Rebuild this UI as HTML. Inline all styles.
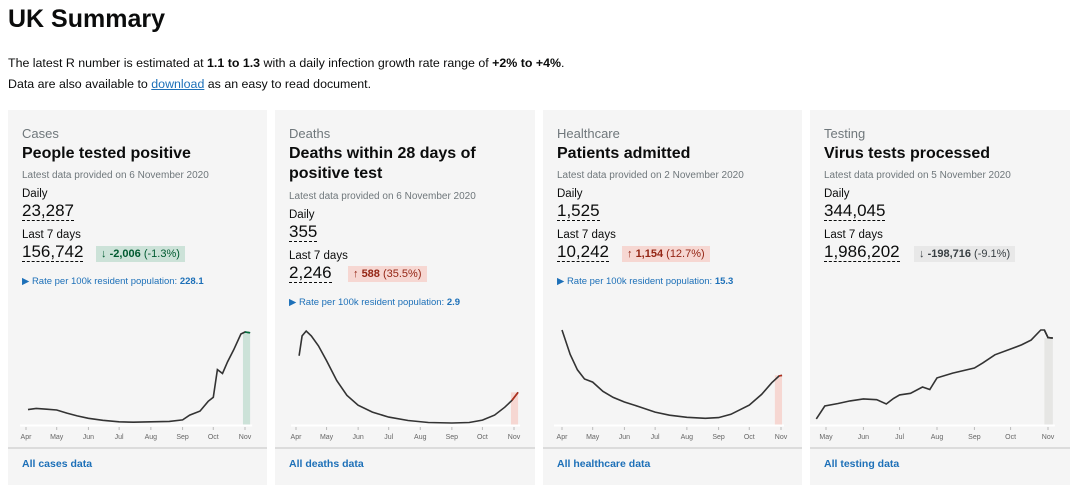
<!DOCTYPE html>
<html><head><meta charset="utf-8">
<style>
body{margin:0;width:1080px;height:495px;background:#fff;font-family:"Liberation Sans",sans-serif;color:#0b0c0c;position:relative;overflow:hidden}
.h1{position:absolute;left:8px;top:5px;font-size:25px;font-weight:bold}
.p{position:absolute;left:8px;font-size:12.4px}
.p a{color:#1d70b8}
.card{position:absolute;top:110px;height:375px;width:259px;background:#f5f5f5}
.card .cat{position:absolute;left:14px;top:16px;font-size:13px;color:#6f777b}
.card .title{position:absolute;left:14px;top:34px;font-size:16px;font-weight:bold;line-height:20px;width:230px}
.card .sub{position:absolute;left:14px;font-size:10px;color:#6f777b}
.card .lbl{position:absolute;left:14px;font-size:11.5px}
.card .num{position:absolute;left:14px;font-size:17px;border-bottom:1px dashed #0b0c0c;line-height:19px}
.chg{position:absolute;left:88px;font-size:11px;padding:2px 5px}
.rate{position:absolute;left:14px;font-size:9.5px;color:#1d70b8}
.card .div{position:absolute;left:0;right:0;top:337px;border-top:2px solid #dcdcdc}
.card .link{position:absolute;left:14px;top:348px;font-size:10.5px;font-weight:bold;color:#1d70b8}
svg{position:absolute;left:0;top:200px}
</style></head><body>
<div class="h1">UK Summary</div>
<div class="p" style="top:56px">The latest R number is estimated at <b>1.1 to 1.3</b> with a daily infection growth rate range of <b>+2% to +4%</b>.</div>
<div class="p" style="top:77px">Data are also available to <a style="text-decoration:underline">download</a> as an easy to read document.</div>

<div class="card" style="left:8px">
<div class="cat">Cases</div><div class="title">People tested positive</div>
<div class="sub" style="top:60px">Latest data provided on 6 November 2020</div>
<div class="lbl" style="top:78px">Daily</div><div class="num" style="top:91px">23,287</div>
<div class="lbl" style="top:119px">Last 7 days</div><div class="num" style="top:132px">156,742</div>
<div class="chg" style="top:136px;background:#cce2d8;color:#005a30">↓ <b>-2,006</b> (-1.3%)</div>
<div class="rate" style="top:166px">▶ Rate per 100k resident population: <b>228.1</b></div>
<svg id="c0" width="259" height="135"></svg>
<div class="div"></div><div class="link">All cases data</div></div>

<div class="card" style="left:275px;width:260px">
<div class="cat">Deaths</div><div class="title">Deaths within 28 days of positive test</div>
<div class="sub" style="top:81px">Latest data provided on 6 November 2020</div>
<div class="lbl" style="top:99px">Daily</div><div class="num" style="top:112px">355</div>
<div class="lbl" style="top:140px">Last 7 days</div><div class="num" style="top:153px">2,246</div>
<div class="chg" style="top:156px;left:73px;background:#f6d7d2;color:#942514">↑ <b>588</b> (35.5%)</div>
<div class="rate" style="top:187px">▶ Rate per 100k resident population: <b>2.9</b></div>
<svg id="c1" width="260" height="135"></svg>
<div class="div"></div><div class="link">All deaths data</div></div>

<div class="card" style="left:543px">
<div class="cat">Healthcare</div><div class="title">Patients admitted</div>
<div class="sub" style="top:60px">Latest data provided on 2 November 2020</div>
<div class="lbl" style="top:78px">Daily</div><div class="num" style="top:91px">1,525</div>
<div class="lbl" style="top:119px">Last 7 days</div><div class="num" style="top:132px">10,242</div>
<div class="chg" style="top:136px;left:79px;background:#f6d7d2;color:#942514">↑ <b>1,154</b> (12.7%)</div>
<div class="rate" style="top:166px">▶ Rate per 100k resident population: <b>15.3</b></div>
<svg id="c2" width="259" height="135"></svg>
<div class="div"></div><div class="link">All healthcare data</div></div>

<div class="card" style="left:810px;width:260px">
<div class="cat">Testing</div><div class="title">Virus tests processed</div>
<div class="sub" style="top:60px">Latest data provided on 5 November 2020</div>
<div class="lbl" style="top:78px">Daily</div><div class="num" style="top:91px">344,045</div>
<div class="lbl" style="top:119px">Last 7 days</div><div class="num" style="top:132px">1,986,202</div>
<div class="chg" style="top:136px;left:104px;background:#e8e8e8;color:#383f43">↓ <b>-198,716</b> (-9.1%)</div>
<svg id="c3" width="260" height="135"></svg>
<div class="div"></div><div class="link">All testing data</div></div>

<script>
// days since 1 April
const casesDays=[2,10,20,30,40,50,61,75,91,105,122,140,153,160,170,178,183,187,192,197,203,210,214,219];
const casesVals=[3900,4200,4000,3800,3000,2300,1700,1200,800,700,800,900,1300,2500,3500,6000,7000,14000,13000,16000,19000,23000,23500,23300];
const deathsDays=[3,6,10,15,22,30,40,50,61,75,91,110,130,153,170,183,195,205,212,218];
const deathsVals=[700,900,950,900,800,650,450,300,200,130,80,45,25,20,25,50,100,180,250,330];
const healthDays=[0,8,15,22,30,40,50,61,75,91,105,122,140,153,165,183,195,205,212,215];
const healthVals=[3100,2300,1800,1500,1400,1100,900,750,600,420,320,250,220,240,350,650,1000,1380,1600,1620];
const testDays=[22,29,40,50,61,72,80,86,91,100,110,116,122,135,153,160,170,183,192,200,208,211,214,218];
const testVals=[24000,75000,85000,95000,103000,100000,83000,105000,119000,125000,150000,140000,186000,205000,225000,245000,277000,300000,316000,335000,375000,375000,345000,343000];
const monthDays=[0,30,61,91,122,153,183,214];
const monthLabels=["Apr","May","Jun","Jul","Aug","Sep","Oct","Nov"];
const NS="http://www.w3.org/2000/svg";
function mk(t,a){const e=document.createElementNS(NS,t);for(const k in a)e.setAttribute(k,a[k]);return e;}
function chart(id,days,vals,ymax,d0,x0,x1,hlFill,hlLine,firstMonth){
 const s=document.getElementById(id);
 const xs=d=>x0+(d-d0)*(x1-x0)/(214-d0);
 const ys=v=>115-v*95/ymax;
 const ax=mk('line',{x1:xs(days[0])-8,x2:xs(days[days.length-1])+2,y1:115.5,y2:115.5,stroke:'#fff','stroke-width':2});
 const last=days[days.length-1];
 const r=mk('rect',{x:xs(last-7),y:ys(vals[vals.length-1]),width:xs(last)-xs(last-7),height:115-ys(vals[vals.length-1]),fill:hlFill});
 
 
 s.appendChild(r);
 let p='';
 days.forEach((d,i)=>{p+=(i?'L':'M')+xs(d).toFixed(1)+' '+ys(vals[i]).toFixed(1);});
 const ln=mk('path',{d:p,fill:'none',stroke:'#333','stroke-width':1.6});
 
 
 s.appendChild(ln);
 let pts=[];
 for(let i=0;i<days.length;i++){if(days[i]>=last-7)pts.push([xs(days[i]),ys(vals[i])]);}
 if(pts.length>1){const hl=mk('path',{d:pts.map((q,i)=>(i?'L':'M')+q[0]+' '+q[1]).join(''),fill:'none',stroke:hlLine,'stroke-width':1.6});
  
  
  s.appendChild(hl);}
 s.appendChild(ax);
 for(let i=firstMonth;i<monthDays.length;i++){
  const x=xs(monthDays[i]);
  s.appendChild(mk('line',{x1:x,x2:x,y1:117,y2:120,stroke:'#bbb'}));
  const t=mk('text',{x:x,y:129,'text-anchor':'middle','font-size':7,fill:'#666','font-family':'Liberation Sans'});
  t.textContent=monthLabels[i];
  
  
  s.appendChild(t);
 }
}
chart('c0',casesDays,casesVals,24000,0,18,237,'#cce2d8','#00703c',0);
chart('c1',deathsDays,deathsVals,960,0,21,239,'#f6d7d2','#b02e1c',0);
chart('c2',healthDays,healthVals,3100,0,19,238,'#f6d7d2','#b02e1c',0);
chart('c3',testDays,testVals,375000,30,16,238,'#e6e6e4','#333',1);
</script>
</body></html>
